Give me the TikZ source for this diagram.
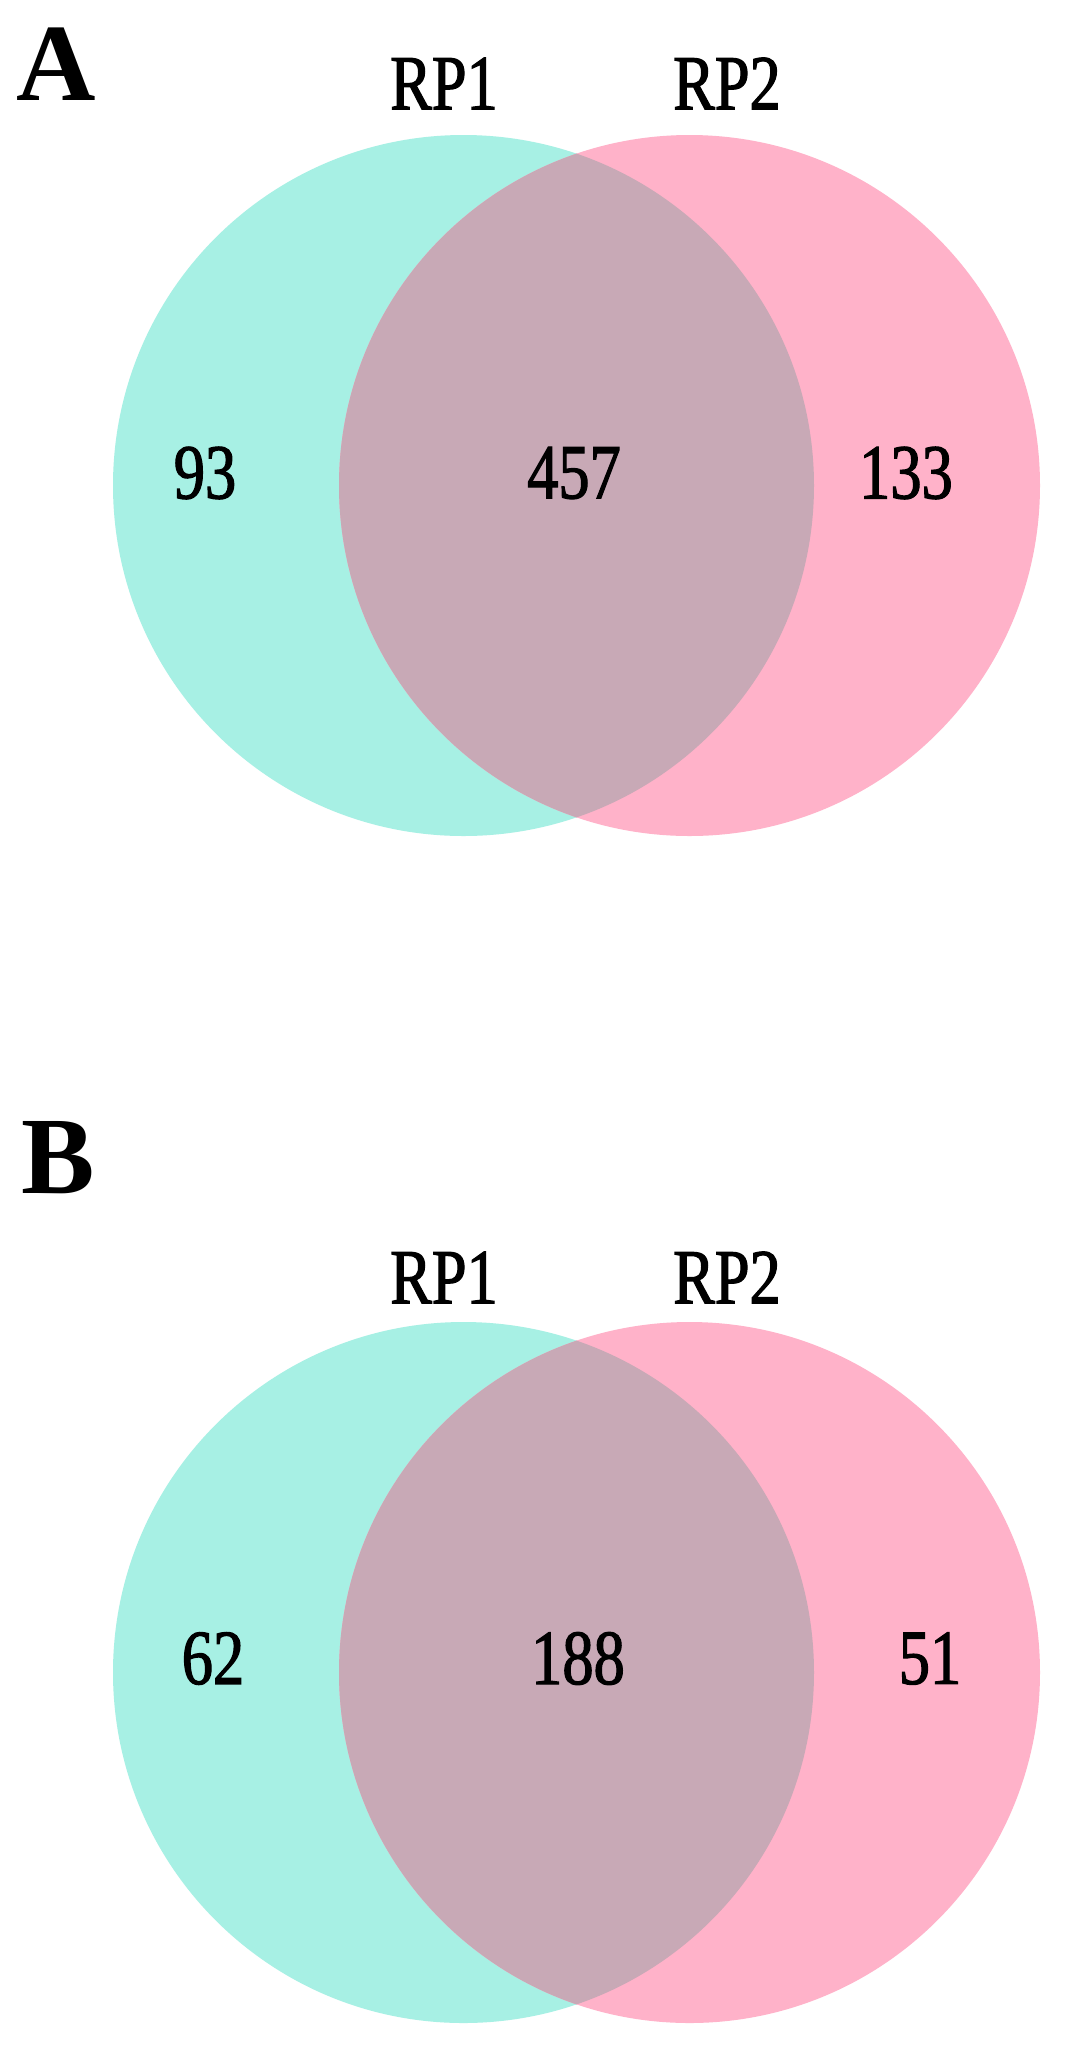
\documentclass[tikz,border=0pt]{standalone}
\usepackage{fontspec}
\setmainfont{Liberation Serif}
\newfontfamily\narrowfont{Liberation Serif}[FakeStretch=0.8,FakeBold=1.5]
\definecolor{setone}{RGB}{167,240,228}
\definecolor{settwo}{RGB}{255,178,201}
\definecolor{both}{RGB}{200,169,182}
\begin{document}
\begin{tikzpicture}[x=1pt,y=-1pt,
  panel/.style={font=\fontsize{110}{110}\selectfont\bfseries,inner sep=0pt},
  setlabel/.style={font=\narrowfont\fontsize{78}{78}\selectfont,inner sep=0pt},
  count/.style={font=\narrowfont\fontsize{78}{78}\selectfont,inner sep=0pt}]
\useasboundingbox (0,0) rectangle (1066,2046);
\fill[white] (0,0) rectangle (1066,2046);
% Panel A
\fill[setone] (463.5,485.5) circle (350.5);
\fill[settwo] (689.5,485.5) circle (350.5);
\begin{scope}
  \clip (463.5,485.5) circle (350.5);
  \fill[both] (689.5,485.5) circle (350.5);
\end{scope}
\node[panel] (lA) at (56,64.5) {A};
\node[setlabel] (a1) at (444,83.5) {RP1};
\node[setlabel] (a2) at (727,83.5) {RP2};
\node[count] (an1) at (205,473) {93};
\node[count] (an2) at (574,473) {457};
\node[count] (an3) at (906,473) {133};
% Panel B
\fill[setone] (463.5,1672.5) circle (350.5);
\fill[settwo] (689.5,1672.5) circle (350.5);
\begin{scope}
  \clip (463.5,1672.5) circle (350.5);
  \fill[both] (689.5,1672.5) circle (350.5);
\end{scope}
\node[panel] (lB) at (58,1158) {B};
\node[setlabel] (b1) at (444,1277.5) {RP1};
\node[setlabel] (b2) at (727,1277.5) {RP2};
\node[count] (bn1) at (213,1658.5) {62};
\node[count] (bn2) at (578,1658.5) {188};
\node[count] (bn3) at (930,1658.5) {51};
\end{tikzpicture}
\end{document}
